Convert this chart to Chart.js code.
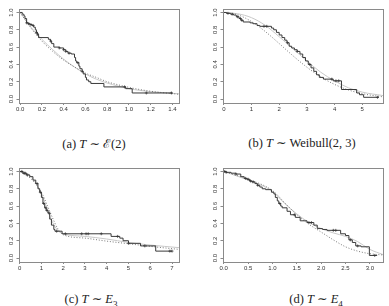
<!DOCTYPE html>
<html><head><meta charset="utf-8">
<script src="https://cdn.jsdelivr.net/npm/chart.js@4/dist/chart.umd.min.js"></script>
<style>
html,body{margin:0;padding:0;background:#fff;width:389px;height:306px;overflow:hidden;position:relative}
canvas{position:absolute}
.cap{position:absolute;font-family:"Liberation Serif","DejaVu Serif",serif;font-size:12.5px;color:#222;white-space:nowrap;transform:translate(-50%,-50%)}
</style></head><body>
<div style="position:absolute;left:0;top:0;width:194px;height:125px"><canvas id="ca"></canvas></div>
<div style="position:absolute;left:204px;top:0;width:194px;height:125px"><canvas id="cb"></canvas></div>
<div style="position:absolute;left:0;top:159px;width:194px;height:125px"><canvas id="cc"></canvas></div>
<div style="position:absolute;left:204px;top:159px;width:194px;height:125px"><canvas id="cd"></canvas></div>
<div class="cap" style="left:94px;top:143px">(a) <i>T</i> ∼ ℰ(2)</div>
<div class="cap" style="left:302px;top:143px">(b) <i>T</i> ∼ Weibull(2, 3)</div>
<div class="cap" style="left:91px;top:299px">(c) <i>T</i> ∼ <i>E</i><sub style="font-size:9px;line-height:0">3</sub></div>
<div class="cap" style="left:316px;top:299px">(d) <i>T</i> ∼ <i>E</i><sub style="font-size:9px;line-height:0">4</sub></div>
<script>
// ---------- Data ----------
const yTicks = [0, 0.2, 0.4, 0.6, 0.8, 1.0];

// Panel (a)
const xTicksA = [0, 0.2, 0.4, 0.6, 0.8, 1.0, 1.2, 1.4];
const kmA_t = [0,0.02,0.035,0.045,0.06,0.075,0.09,0.11,0.125,0.14,0.15,0.16,0.17,0.26,0.28,0.29,0.31,0.36,0.40,0.42,0.44,0.47,0.50,0.51,0.52,0.54,0.55,0.57,0.58,0.60,0.61,0.63,0.65,0.77,0.97,1.03,1.40];
const kmA_s = [1,0.98,0.96,0.93,0.88,0.87,0.86,0.85,0.83,0.80,0.77,0.75,0.71,0.69,0.67,0.64,0.60,0.59,0.57,0.55,0.53,0.52,0.48,0.44,0.42,0.38,0.35,0.32,0.29,0.25,0.22,0.20,0.18,0.14,0.12,0.07,0.07];
const cenA_t = [0.06,0.08,0.10,0.12,0.15,0.16,0.28,0.36,0.40,0.42,0.45,0.53,0.57,0.96,1.16,1.39];
const cenA_s = [0.88,0.87,0.86,0.85,0.77,0.75,0.67,0.59,0.57,0.55,0.53,0.42,0.32,0.14,0.07,0.07];
const smA_t = [0,0.1,0.2,0.3,0.4,0.5,0.6,0.7,0.8,0.9,1.0,1.1,1.2,1.3,1.46];
const grayA_s = [1,0.83,0.69,0.57,0.46,0.37,0.29,0.23,0.185,0.15,0.12,0.10,0.085,0.075,0.06];
const dotA_s = [1,0.82,0.67,0.55,0.45,0.37,0.30,0.25,0.20,0.165,0.135,0.11,0.09,0.075,0.055];

// Panel (b)
const xTicksB = [0, 1, 2, 3, 4, 5];
const kmB_t = [0,0.1,0.25,0.35,0.45,0.55,0.62,0.7,0.95,1.05,1.2,1.3,1.72,1.8,1.9,2.0,2.1,2.2,2.28,2.36,2.45,2.55,2.65,2.75,2.85,2.95,3.05,3.15,3.25,3.35,3.45,3.6,3.95,4.25,4.8,4.9,5.05,5.6];
const kmB_s = [1,0.99,0.98,0.97,0.95,0.93,0.91,0.89,0.88,0.87,0.85,0.84,0.82,0.80,0.77,0.74,0.71,0.68,0.65,0.61,0.59,0.57,0.55,0.52,0.48,0.44,0.40,0.36,0.32,0.28,0.25,0.23,0.21,0.11,0.07,0.05,0.02,0.02];
const cenB_t = [0.15,0.3,0.5,0.6,0.65,1.45,1.55,2.3,2.65,3.1,3.9,4.05,4.15,5.55];
const cenB_s = [0.99,0.98,0.95,0.93,0.91,0.84,0.84,0.65,0.55,0.40,0.23,0.21,0.21,0.02];
const smB_t = [0,0.5,1,1.5,2,2.5,3,3.5,4,4.5,5,5.75];
const grayB_s = [1,0.985,0.94,0.85,0.72,0.58,0.44,0.31,0.21,0.13,0.08,0.04];
const dotB_s = [1,0.973,0.895,0.779,0.641,0.499,0.368,0.256,0.169,0.105,0.062,0.025];

// Panel (c)
const xTicksC = [0, 1, 2, 3, 4, 5, 6, 7];
const kmC_t = [0,0.15,0.31,0.46,0.61,0.74,0.84,0.92,1.0,1.07,1.15,1.22,1.3,1.38,1.46,1.57,1.62,1.95,4.2,4.6,4.75,5.0,5.55,6.25,7.0];
const kmC_s = [1,0.98,0.96,0.94,0.90,0.86,0.80,0.76,0.70,0.63,0.58,0.55,0.52,0.45,0.38,0.33,0.31,0.28,0.25,0.23,0.20,0.17,0.14,0.08,0.08];
const cenC_t = [0.1,0.2,0.25,0.35,0.8,0.95,1.1,1.2,1.25,1.35,1.7,2.1,2.85,3.05,3.15,3.75,4.5,5.0,5.75,6.9,7.0];
const cenC_s = [1.0,0.98,0.98,0.96,0.86,0.76,0.63,0.58,0.55,0.52,0.31,0.28,0.28,0.28,0.28,0.28,0.25,0.17,0.14,0.08,0.08];
const smC_t = [0,0.5,1,1.25,1.5,1.75,2,3,4,5,6,7.32];
const grayC_s = [1,0.95,0.74,0.58,0.42,0.32,0.28,0.25,0.22,0.18,0.15,0.12];
const dotC_s = [1,0.92,0.76,0.62,0.47,0.34,0.27,0.23,0.195,0.165,0.135,0.10];

// Panel (d)
const xTicksD = [0, 0.5, 1.0, 1.5, 2.0, 2.5, 3.0];
const kmD_t = [0,0.05,0.15,0.25,0.35,0.42,0.48,0.53,0.58,0.64,0.69,0.74,0.79,0.86,0.98,1.03,1.06,1.1,1.13,1.17,1.2,1.3,1.37,1.47,1.57,1.71,1.85,1.92,2.03,2.12,2.4,2.5,2.57,2.64,2.71,2.82,2.99,3.15];
const kmD_s = [1,0.99,0.98,0.97,0.94,0.92,0.91,0.89,0.88,0.86,0.84,0.82,0.80,0.79,0.76,0.74,0.70,0.66,0.63,0.60,0.58,0.54,0.50,0.47,0.43,0.41,0.38,0.34,0.33,0.32,0.28,0.26,0.21,0.18,0.14,0.13,0.03,0.03];
const cenD_t = [0.02,0.05,0.25,0.45,0.5,0.55,0.6,0.7,1.15,1.45,1.75,1.8,2.25,2.3,2.6,2.75,3.1];
const cenD_s = [1,0.99,0.97,0.92,0.91,0.89,0.88,0.84,0.63,0.50,0.41,0.41,0.32,0.32,0.21,0.14,0.03];
const smD_t = [0,0.5,1,1.25,1.5,1.75,2,2.25,2.5,2.75,3,3.27];
const grayD_s = [1,0.9,0.77,0.63,0.51,0.41,0.34,0.29,0.25,0.19,0.10,0.04];
const dotD_s = [1,0.91,0.78,0.64,0.50,0.39,0.30,0.21,0.13,0.08,0.05,0.035];

// ---------- Drawing ----------
const zip = (xs, ys) => xs.map((x, i) => ({x: x, y: ys[i]}));
const AXIS_COL = '#8a8a8a';
const LABEL_COL = '#333';
const FONT = {family: '"Liberation Sans", Arial, sans-serif', size: 6};

const boxPlugin = {
  id: 'box',
  afterDraw(chart) {
    const a = chart.chartArea, ctx = chart.ctx;
    ctx.save();
    ctx.strokeStyle = AXIS_COL;
    ctx.lineWidth = 1;
    ctx.strokeRect(Math.round(a.left) + 0.5, Math.round(a.top) + 0.5,
                   Math.round(a.right - a.left), Math.round(a.bottom - a.top));
    ctx.restore();
  }
};

function panel(id, o) {
  new Chart(document.getElementById(id), {
    type: 'line',
    data: {
      datasets: [
        {data: zip(o.smT, o.gray), borderColor: '#c8c8c8', borderWidth: 1, pointRadius: 0, cubicInterpolationMode: 'monotone', order: 4},
        {data: zip(o.smT, o.dot), borderColor: '#6a6a6a', borderWidth: 0.9, borderDash: [1, 1.8], pointRadius: 0, cubicInterpolationMode: 'monotone', order: 3},
        {data: zip(o.kmT, o.kmS), borderColor: '#3a3a3a', borderWidth: 1, pointRadius: 0, stepped: true, order: 2},
        {type: 'scatter', data: zip(o.cT, o.cS), pointStyle: 'cross', pointRadius: 1.5, borderColor: '#333', backgroundColor: '#333', borderWidth: 0.7, showLine: false, order: 1}
      ]
    },
    options: {
      responsive: true, maintainAspectRatio: false, animation: false,
      layout: {padding: {left: 0, top: 9, right: 15, bottom: 0}},
      plugins: {legend: {display: false}, tooltip: {enabled: false}},
      scales: {
        x: {
          type: 'linear', min: o.xmin, max: o.xmax,
          afterBuildTicks: s => { s.ticks = o.xt.map(v => ({value: v})); },
          afterFit: s => { s.height = 22.5; },
          border: {display: false},
          grid: {drawOnChartArea: false, drawTicks: true, tickLength: 2.5, color: AXIS_COL},
          ticks: {font: FONT, color: LABEL_COL, padding: 0.5, maxRotation: 0, autoSkip: false,
                  callback: v => v.toFixed(o.dec)}
        },
        y: {
          type: 'linear', min: -0.04, max: 1.04,
          afterBuildTicks: s => { s.ticks = yTicks.map(v => ({value: v})); },
          afterFit: s => { s.width = 19; },
          border: {display: false},
          grid: {drawOnChartArea: false, drawTicks: true, tickLength: 2.5, color: AXIS_COL},
          ticks: {font: FONT, color: LABEL_COL, padding: 0.5, minRotation: 90, maxRotation: 90,
                  crossAlign: 'center', autoSkip: false, callback: v => v.toFixed(1)}
        }
      }
    },
    plugins: [boxPlugin]
  });
}

panel('ca', {xmin: -0.01, xmax: 1.46, xt: xTicksA, dec: 1, kmT: kmA_t, kmS: kmA_s, cT: cenA_t, cS: cenA_s, smT: smA_t, gray: grayA_s, dot: dotA_s});
panel('cb', {xmin: -0.03, xmax: 5.75, xt: xTicksB, dec: 0, kmT: kmB_t, kmS: kmB_s, cT: cenB_t, cS: cenB_s, smT: smB_t, gray: grayB_s, dot: dotB_s});
panel('cc', {xmin: -0.03, xmax: 7.32, xt: xTicksC, dec: 0, kmT: kmC_t, kmS: kmC_s, cT: cenC_t, cS: cenC_s, smT: smC_t, gray: grayC_s, dot: dotC_s});
panel('cd', {xmin: -0.015, xmax: 3.27, xt: xTicksD, dec: 1, kmT: kmD_t, kmS: kmD_s, cT: cenD_t, cS: cenD_s, smT: smD_t, gray: grayD_s, dot: dotD_s});
</script>
</body></html>
